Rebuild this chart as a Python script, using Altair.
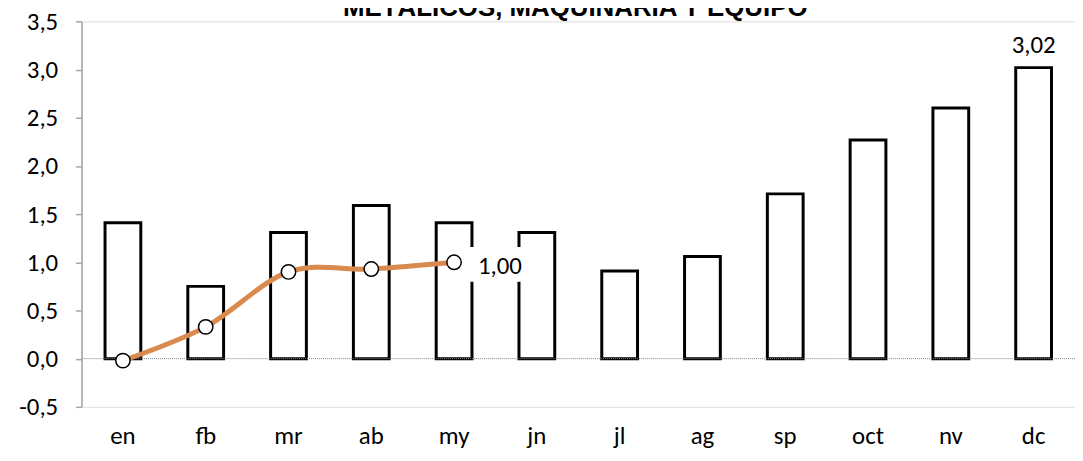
import altair as alt
import pandas as pd

months = ["en", "fb", "mr", "ab", "my", "jn", "jl", "ag", "sp", "oct", "nv", "dc"]
bar_values = [1.41, 0.75, 1.31, 1.59, 1.41, 1.31, 0.91, 1.06, 1.71, 2.27, 2.60, 3.02]
line_months = ["en", "fb", "mr", "ab", "my"]
line_values = [-0.02, 0.33, 0.90, 0.93, 1.00]
y_ticks = [-0.5, 0.0, 0.5, 1.0, 1.5, 2.0, 2.5, 3.0, 3.5]
title_text = ["METÁLICOS, MAQUINARIA Y EQUIPO"]

bars_df = pd.DataFrame({"mes": months, "valor": bar_values})
line_df = pd.DataFrame({"mes": line_months, "valor": line_values})
last_bar = bars_df.tail(1).assign(lbl=lambda d: d["valor"].map(lambda v: f"{v:.2f}".replace(".", ",")))
last_line = line_df.tail(1).assign(lbl=lambda d: d["valor"].map(lambda v: f"{v:.2f}".replace(".", ",")))
zero_df = pd.DataFrame({"y": [0.0]})
title_df = pd.DataFrame({"t": title_text})

FONT = "Carlito, Lato, sans-serif"
FS = 25

x_enc = alt.X(
    "mes:N",
    sort=months,
    scale=alt.Scale(domain=months, paddingInner=0.0, paddingOuter=0.0),
    axis=alt.Axis(
        title=None, domain=False, ticks=False, labelAngle=0,
        labelFontSize=FS, labelColor="black", labelFont=FONT, labelPadding=17,
    ),
)
y_scale = alt.Scale(domain=[-0.5, 3.5], nice=False)
y_enc = alt.Y(
    "valor:Q",
    scale=y_scale,
    axis=alt.Axis(
        title=None, values=y_ticks, grid=False,
        labelExpr="replace(replace(format(datum.value, '.1f'), '.', ','), '\u2212', '-')",
        labelFontSize=FS, labelColor="black", labelFont=FONT, labelPadding=18,
        domainColor="#A6A6A6", domainWidth=1.5, tickColor="#A6A6A6", tickWidth=1.5, tickSize=6,
    ),
)

bars = alt.Chart(bars_df).mark_bar(
    size=36, fill="white", stroke="black", strokeWidth=3
).encode(x=x_enc, y=y_enc, y2=alt.datum(0))

zero_rule = alt.Chart(zero_df).mark_rule(
    color="#808080", strokeDash=[1, 1], strokeWidth=1
).encode(y=alt.Y("y:Q", scale=y_scale))

box = alt.Chart(last_line).mark_point(
    shape="M1.6,-1.45L7.4,-1.45L7.4,1.85L1.6,1.85Z",
    size=400, filled=True, fill="white", stroke="white", opacity=1,
).encode(x=alt.X("mes:N", sort=months), y=alt.Y("valor:Q", scale=y_scale))

line = alt.Chart(line_df).mark_line(
    color="#D98A4F", strokeWidth=5, interpolate="cardinal"
).encode(x=alt.X("mes:N", sort=months), y=alt.Y("valor:Q", scale=y_scale))

points = alt.Chart(line_df).mark_point(
    shape="circle", size=210, filled=True, fill="white", stroke="black", strokeWidth=1.5, opacity=1
).encode(x=alt.X("mes:N", sort=months), y=alt.Y("valor:Q", scale=y_scale))

line_label = alt.Chart(last_line).mark_text(
    align="left", baseline="middle", dx=24, dy=4, fontSize=FS, font=FONT, color="black"
).encode(x=alt.X("mes:N", sort=months), y=alt.Y("valor:Q", scale=y_scale), text="lbl:N")

bar_label = alt.Chart(last_bar).mark_text(
    align="center", baseline="bottom", dy=-10, fontSize=FS, font=FONT, color="black"
).encode(x=alt.X("mes:N", sort=months), y=alt.Y("valor:Q", scale=y_scale), text="lbl:N")

title_mark = alt.Chart(title_df).mark_text(
    align="center", baseline="alphabetic", fontSize=26, fontWeight="bold",
    font="Liberation Sans Narrow, Arial Narrow, sans-serif", color="black",
).encode(x=alt.value(497), y=alt.value(-5), text="t:N")

chart = alt.layer(bars, zero_rule, box, line, points, line_label, bar_label, title_mark).properties(
    width=1000,
    height=388,
    padding={"left": 74, "top": 12, "right": 0, "bottom": 44},
    autosize=alt.AutoSizeParams(type="none"),
).configure_view(stroke=None).configure(background="white")

chart.save("out.html", embed_options={"renderer": "svg", "actions": False})
